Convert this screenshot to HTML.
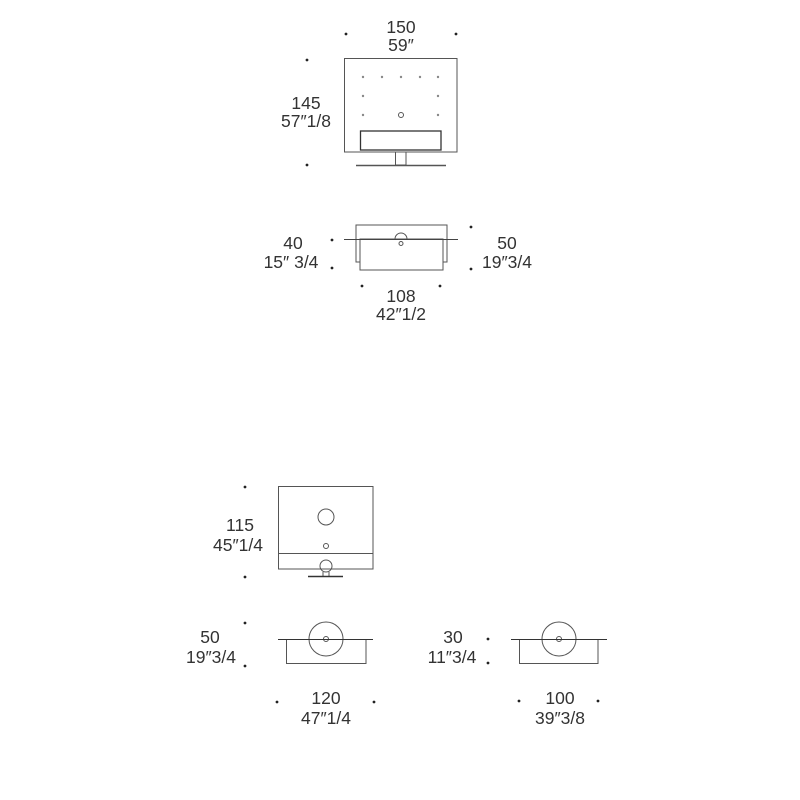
<!DOCTYPE html>
<html><head><meta charset="utf-8"><style>
html,body{margin:0;padding:0;background:#fff}
svg{display:block}
text{font-family:"Liberation Sans",sans-serif;font-size:17.5px;fill:#333;text-anchor:middle;dominant-baseline:central}
</style></head><body>
<svg width="800" height="800" viewBox="0 0 800 800" xmlns="http://www.w3.org/2000/svg">
<g fill="#222">
<circle cx="346" cy="34" r="1.4"/><circle cx="456" cy="34" r="1.4"/>
<circle cx="307" cy="60" r="1.4"/><circle cx="307" cy="165" r="1.4"/>
<circle cx="332" cy="240" r="1.4"/><circle cx="332" cy="268" r="1.4"/>
<circle cx="471" cy="227" r="1.4"/><circle cx="471" cy="269" r="1.4"/>
<circle cx="362" cy="286" r="1.4"/><circle cx="440" cy="286" r="1.4"/>
<circle cx="245" cy="487" r="1.4"/><circle cx="245" cy="577" r="1.4"/>
<circle cx="245" cy="623" r="1.4"/><circle cx="245" cy="666" r="1.4"/>
<circle cx="277" cy="702" r="1.4"/><circle cx="374" cy="702" r="1.4"/>
<circle cx="488" cy="639" r="1.4"/><circle cx="488" cy="663" r="1.4"/>
<circle cx="519" cy="701" r="1.4"/><circle cx="598" cy="701" r="1.4"/>
</g>
<g fill="#888">
<circle cx="363" cy="77" r="1.2"/><circle cx="382" cy="77" r="1.2"/><circle cx="401" cy="77" r="1.2"/><circle cx="420" cy="77" r="1.2"/><circle cx="438" cy="77" r="1.2"/>
<circle cx="363" cy="96" r="1.2"/><circle cx="438" cy="96" r="1.2"/>
<circle cx="363" cy="115" r="1.2"/><circle cx="438" cy="115" r="1.2"/>
</g>
<g fill="none" stroke="#555" stroke-width="1">
<rect x="344.5" y="58.5" width="112.5" height="93.5"/>
<circle cx="401" cy="115" r="2.5"/>
<rect x="360.5" y="131" width="80.5" height="19" stroke="#333" stroke-width="1.3"/>
<rect x="395.5" y="152" width="10.5" height="13"/>
<line x1="356" y1="165.5" x2="446" y2="165.5" stroke-width="1.5"/>
<rect x="356" y="225" width="91" height="37"/>
<rect x="360" y="239" width="83" height="31" fill="#fff"/>
<line x1="344" y1="239.5" x2="458" y2="239.5" stroke="#444"/>
<path d="M395,239 A6,6 0 0 1 407,239"/>
<circle cx="401" cy="243.5" r="2"/>
<rect x="278.5" y="486.5" width="94.5" height="82.5"/>
<line x1="278" y1="553.5" x2="373" y2="553.5"/>
<circle cx="326" cy="517" r="8"/>
<circle cx="326" cy="546" r="2.5"/>
<circle cx="326" cy="566" r="6"/>
<line x1="323" y1="572" x2="323" y2="576"/><line x1="329" y1="572" x2="329" y2="576"/>
<line x1="308" y1="576.5" x2="343" y2="576.5" stroke="#333" stroke-width="1.5"/>
<rect x="286.5" y="639.5" width="79.5" height="24"/>
<circle cx="326" cy="639" r="17"/>
<circle cx="326" cy="639" r="2.5"/>
<line x1="278" y1="639.5" x2="373" y2="639.5" stroke="#333"/>
<rect x="519.5" y="639.5" width="78.5" height="24"/>
<circle cx="559" cy="639" r="17"/>
<circle cx="559" cy="639" r="2.5"/>
<line x1="511" y1="639.5" x2="607" y2="639.5" stroke="#333"/>
</g>
<text x="401" y="27">150</text><text x="401" y="45">59″</text>
<text x="306" y="103">145</text><text x="306" y="121">57″1/8</text>
<text x="293" y="243">40</text><text x="291" y="262">15″ 3/4</text>
<text x="507" y="243">50</text><text x="507" y="262">19″3/4</text>
<text x="401" y="296">108</text><text x="401" y="314">42″1/2</text>
<text x="240" y="525">115</text><text x="238" y="545">45″1/4</text>
<text x="210" y="637">50</text><text x="211" y="657">19″3/4</text>
<text x="326" y="698">120</text><text x="326" y="718">47″1/4</text>
<text x="453" y="637">30</text><text x="452" y="657">11″3/4</text>
<text x="560" y="698">100</text><text x="560" y="718">39″3/8</text>
</svg>
</body></html>
